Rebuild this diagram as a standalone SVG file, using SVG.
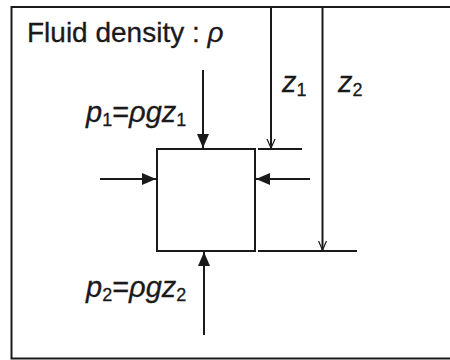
<svg xmlns="http://www.w3.org/2000/svg" width="450" height="360" viewBox="0 0 450 360">
<defs>
<marker id="fill" markerUnits="userSpaceOnUse" markerWidth="16" markerHeight="14" refX="14" refY="6" orient="auto">
<path d="M0,0 L14,6 L0,12 Z" fill="#1a1a1a"/>
</marker>
<marker id="open" markerUnits="userSpaceOnUse" markerWidth="12" markerHeight="12" refX="9" refY="5" orient="auto">
<path d="M0,1 L9,5 L0,9" fill="none" stroke="#1a1a1a" stroke-width="1.2"/>
</marker>
</defs>
<style>
.ln{stroke:#1a1a1a;stroke-width:2;fill:none}
.t{font-family:"Liberation Sans",Arial,sans-serif;font-size:28px;fill:#1a1a1a;stroke:#1a1a1a;stroke-width:0.3}
.m{font-family:"Liberation Sans",Arial,sans-serif;font-size:29px;fill:#1a1a1a;font-style:italic;stroke:#1a1a1a;stroke-width:0.3}
.s{font-size:18px;font-style:normal}
.u{font-style:normal}
</style>
<rect width="450" height="360" fill="#fff"/>
<g id="frame"><path class="ln" d="M450,7 H11.5 V358.5 H450" stroke-width="2.5"/></g>
<g id="title"><text class="t" x="27" y="42">Fluid density : <tspan font-style="italic">ρ</tspan></text></g>
<g id="element"><rect class="ln" x="157" y="149" width="98" height="102" stroke-width="2.5"/></g>
<g id="ticks">
<line class="ln" x1="258" y1="149" x2="302" y2="149"/>
<line class="ln" x1="258" y1="251" x2="357" y2="251"/>
</g>
<g id="connectors">
<line class="ln" x1="203" y1="70" x2="203" y2="148" marker-end="url(#fill)"/>
<line class="ln" x1="204" y1="335" x2="204" y2="252" marker-end="url(#fill)"/>
<line class="ln" x1="100" y1="179" x2="156" y2="179" marker-end="url(#fill)"/>
<line class="ln" x1="310" y1="179" x2="256" y2="179" marker-end="url(#fill)"/>
<line class="ln" x1="271" y1="7" x2="271" y2="148" marker-end="url(#open)"/>
<line class="ln" x1="322.5" y1="7" x2="322.5" y2="250" marker-end="url(#open)"/>
</g>
<g id="label-p1"><text class="m" x="86" y="122">p<tspan class="s" dy="4">1</tspan><tspan class="u" dy="-4">=</tspan>ρgz<tspan class="s" dy="4">1</tspan></text></g>
<g id="label-p2"><text class="m" x="86" y="297">p<tspan class="s" dy="4">2</tspan><tspan class="u" dy="-4">=</tspan>ρgz<tspan class="s" dy="4">2</tspan></text></g>
<g id="label-z1"><text class="m" x="282" y="92">z<tspan class="s" dy="4">1</tspan></text></g>
<g id="label-z2"><text class="m" x="338" y="92">z<tspan class="s" dy="4">2</tspan></text></g>
</svg>
